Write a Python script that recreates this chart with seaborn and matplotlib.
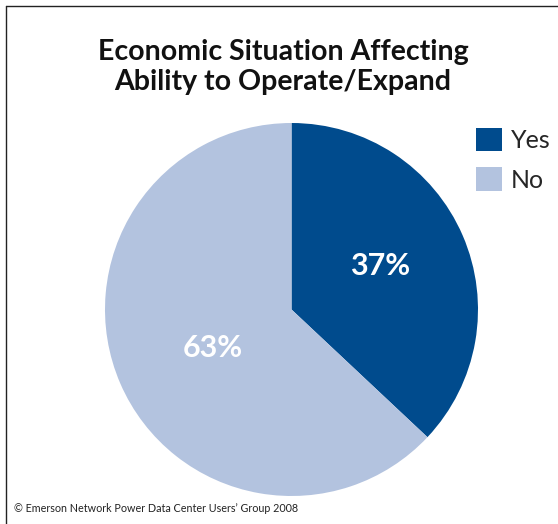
import matplotlib
matplotlib.use("Agg")
import matplotlib.pyplot as plt
from matplotlib.patches import Patch
from matplotlib.lines import Line2D
import numpy as np
import seaborn as sns

categories = ["Yes", "No"]
values = [37, 63]
labels_pct = ["37%", "63%"]
title = "Economic Situation Affecting\nAbility to Operate/Expand"
footer = "\u00a9 Emerson Network Power Data Center Users\u2019 Group 2008"

sns.set_theme(style="white")
plt.rcParams['font.family'] = ['Lato', 'DejaVu Sans']
colors = sns.color_palette(["#004B8D", "#B3C3DF"])

fig = plt.figure(figsize=(5.58, 5.24), dpi=100)
fig.patch.set_facecolor("white")

ax = fig.add_axes([105/558, (524-496)/524, 373/558, 373/524])
wedges, texts = ax.pie(values, colors=colors, startangle=90, counterclock=False,
                       wedgeprops=dict(linewidth=0))
ax.set_aspect("equal")
ax.set_xlim(-1, 1)
ax.set_ylim(-1, 1)
ax.axis("off")

# percent labels
cum = np.cumsum([0] + values)
radii = [0.53, 0.47]
shift = [2.5, 2.5]
for i, lab in enumerate(labels_pct):
    mid = 90 - 360 * (cum[i] + values[i] / 2) / 100 + shift[i]
    r = radii[i]
    x, y = r * np.cos(np.radians(mid)), r * np.sin(np.radians(mid))
    ax.text(x, y, lab, ha="center", va="center", color="white",
            fontsize=22, fontweight="bold")

fig.text(283/558, 1 - 67/524, title, ha="center", va="center",
         fontsize=20.5, fontweight="bold", color="#111111", linespacing=1.22)

handles = [Patch(facecolor=c, edgecolor="none") for c in colors]
leg = fig.legend(handles, categories, loc="upper left",
                 bbox_to_anchor=(463/558, 1 - 115/524), frameon=False,
                 fontsize=18, handlelength=1.05, handleheight=1.05,
                 handletextpad=0.35, labelspacing=0.63, borderpad=0)

fig.text(14/558, 1 - 509/524, footer, ha="left", va="center",
         fontsize=7.75, color="#222222")

# border lines (left and top)
fig.add_artist(Line2D([6/558, 6/558], [0, 1 - 6/524], transform=fig.transFigure,
                      color="#222222", linewidth=1))
fig.add_artist(Line2D([6/558, 1], [1 - 6/524, 1 - 6/524], transform=fig.transFigure,
                      color="#222222", linewidth=1))

fig.savefig("out.png", dpi=100, facecolor="white")
